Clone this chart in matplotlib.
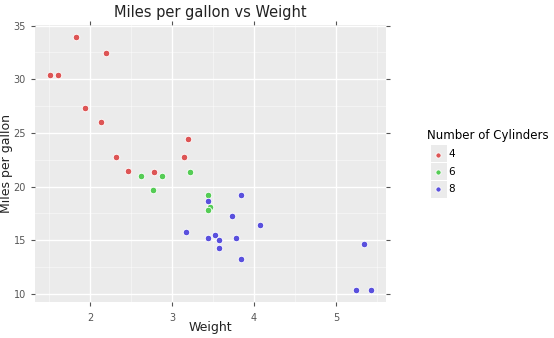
import matplotlib.pyplot as plt
from matplotlib.patches import Rectangle
import numpy as np

# mtcars: weight vs mpg, grouped by cylinders
wt_4 = [2.320, 3.190, 3.150, 2.200, 1.615, 1.835, 2.465, 1.935, 2.140, 1.513, 2.780]
mpg_4 = [22.8, 24.4, 22.8, 32.4, 30.4, 33.9, 21.5, 27.3, 26.0, 30.4, 21.4]
wt_6 = [2.620, 2.875, 3.215, 3.460, 3.440, 3.440, 2.770]
mpg_6 = [21.0, 21.0, 21.4, 18.1, 19.2, 17.8, 19.7]
wt_8 = [3.440, 3.570, 4.070, 3.730, 3.780, 5.250, 5.424, 5.345, 3.520, 3.435, 3.840, 3.845, 3.170, 3.570]
mpg_8 = [18.7, 14.3, 16.4, 17.3, 15.2, 10.4, 10.4, 14.7, 15.5, 15.2, 13.3, 19.2, 15.8, 15.0]
groups = ['4', '6', '8']
colors = ['#dd5555', '#55cc55', '#5a50dd']

fig = plt.figure(figsize=(5.54, 3.38), dpi=100)
ax = fig.add_axes([35/554, 1 - 302/338, 351/554, 277/338])
ax.set_facecolor('#ebebeb')
for s in ax.spines.values():
    s.set_visible(False)

data = [(wt_4, mpg_4), (wt_6, mpg_6), (wt_8, mpg_8)]
for (x, y), g, c in zip(data, groups, colors):
    ax.scatter(x, y, s=22, color=c, edgecolor='white', linewidth=0.6, label=g, zorder=3)

ax.set_xlim(1.33, 5.61)
ax.set_ylim(9.26, 35.05)
ax.set_xticks([2, 3, 4, 5])
ax.set_yticks([10, 15, 20, 25, 30, 35])
ax.set_xticks(np.arange(1.5, 5.6, 1), minor=True)
ax.set_yticks(np.arange(12.5, 35, 5), minor=True)
ax.grid(True, which='major', color='white', linewidth=1.0)
ax.grid(True, which='minor', color='white', linewidth=0.5, alpha=0.6)
ax.set_axisbelow(True)
ax.tick_params(which='major', direction='out', length=3, color='#555555', labelcolor='#555555',
               labelsize=7, top=True, right=True)
ax.tick_params(axis='x', pad=5)
ax.tick_params(which='minor', length=0)

ax.set_title('Miles per gallon vs Weight', fontsize=10.5, color='#222222', pad=6)
ax.set_xlabel('Weight', fontsize=9, color='#222222')
ax.set_ylabel('Miles per gallon', fontsize=9, color='#222222')
ax.xaxis.set_label_coords(0.5, -0.069)
ax.yaxis.set_label_coords(-0.063, 0.5)

leg = ax.legend(title='Number of Cylinders', loc='upper left', bbox_to_anchor=(423/554, 1 - 125/338),
                bbox_transform=fig.transFigure, frameon=False, fontsize=7.5, title_fontsize=8.5,
                handletextpad=0.0, labelspacing=0.7, borderaxespad=0, markerscale=0.8)
leg._legend_box.align = 'left'

# gray key backgrounds as in ggplot legends
for i in range(3):
    fig.patches.append(Rectangle(((431)/554, 1 - (162 + 18*i)/338), 16/554, 17/338,
                                 transform=fig.transFigure, facecolor='#ebebeb',
                                 edgecolor='none', zorder=-1))

fig.savefig('out.png', dpi=100)
